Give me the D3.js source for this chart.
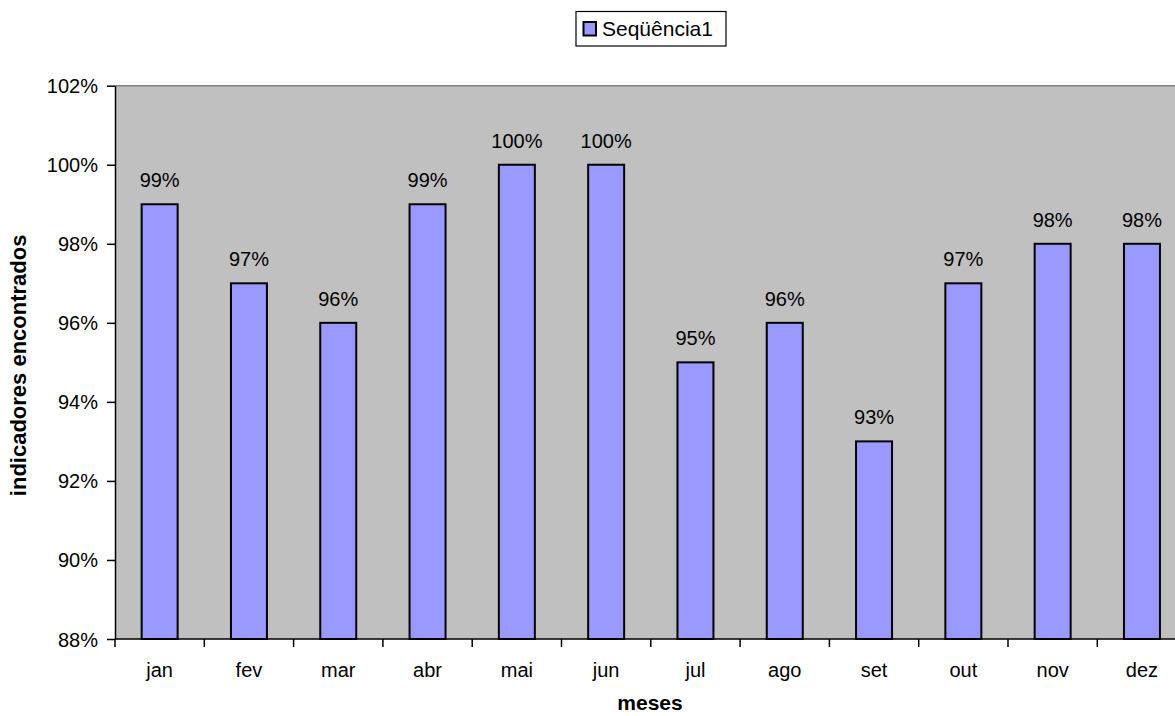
<!DOCTYPE html>
<html>
<head>
<meta charset="utf-8">
<script src="https://cdn.jsdelivr.net/npm/d3@7"></script>
<style>
  html, body { margin: 0; padding: 0; background: #fff; }
  svg { display: block; font-family: "Liberation Sans", Arial, sans-serif; }
</style>
</head>
<body>
<svg id="chart" width="1175" height="716"></svg>
<script>
// Monthly share of indicators found
const months = ["jan", "fev", "mar", "abr", "mai", "jun", "jul", "ago", "set", "out", "nov", "dez"];
const values = [0.99, 0.97, 0.96, 0.99, 1.00, 1.00, 0.95, 0.96, 0.93, 0.97, 0.98, 0.98];
const yTicks = [0.88, 0.90, 0.92, 0.94, 0.96, 0.98, 1.00, 1.02];
const seriesName = "Seqüência1";
const xTitle = "meses";
const yTitle = "indicadores encontrados";

const svg = d3.select("#chart");
const plot = { left: 115, top: 85.7, bottom: 639, step: 89.3 };
const plotRight = plot.left + plot.step * months.length;

const x = d3.scaleBand().domain(months).range([plot.left, plotRight]).padding(0);
const y = d3.scaleLinear().domain([0.88, 1.02]).range([plot.bottom, plot.top]);
const pct = d3.format(".0%");
const barW = x.bandwidth() * 0.403;

// plot background
svg.append("rect")
  .attr("x", plot.left).attr("y", plot.top)
  .attr("width", plotRight - plot.left).attr("height", plot.bottom - plot.top)
  .attr("fill", "#c0c0c0");
svg.append("line")
  .attr("x1", plot.left).attr("x2", plotRight)
  .attr("y1", plot.top).attr("y2", plot.top)
  .attr("stroke", "#808080").attr("stroke-width", 1.5);

// bars
svg.append("g").selectAll("rect").data(values).join("rect")
  .attr("x", (d, i) => x(months[i]) + (x.bandwidth() - barW) / 2)
  .attr("y", d => y(d))
  .attr("width", barW)
  .attr("height", d => y(0.88) - y(d))
  .attr("fill", "#9999ff")
  .attr("stroke", "#000").attr("stroke-width", 2);

// value labels
svg.append("g").selectAll("text").data(values).join("text")
  .attr("x", (d, i) => x(months[i]) + x.bandwidth() / 2)
  .attr("y", d => y(d) - 17)
  .attr("text-anchor", "middle")
  .attr("font-size", 20).attr("fill", "#000")
  .text(d => pct(d));

// y axis
const yAxis = svg.append("g")
  .attr("transform", `translate(${plot.left},0)`)
  .call(d3.axisLeft(y).tickValues(yTicks).tickFormat(pct).tickSizeOuter(0).tickSizeInner(8).tickPadding(9));
yAxis.select(".domain").attr("stroke", "#000").attr("stroke-width", 1.5);
yAxis.selectAll(".tick line").attr("stroke", "#000").attr("stroke-width", 1.5);
yAxis.selectAll(".tick text")
  .attr("font-size", 20).attr("font-family", "Liberation Sans, Arial, sans-serif")
  .attr("fill", "#000").attr("dy", "0.35em");

// x axis: ticks sit on category boundaries
const xAxisG = svg.append("g").attr("transform", `translate(0,${plot.bottom})`);
xAxisG.append("line")
  .attr("x1", plot.left).attr("x2", plotRight)
  .attr("stroke", "#000").attr("stroke-width", 1.5);
xAxisG.selectAll("line.tk").data(months).join("line")
  .attr("class", "tk")
  .attr("x1", d => x(d)).attr("x2", d => x(d))
  .attr("y1", 0).attr("y2", 8)
  .attr("stroke", "#000").attr("stroke-width", 1.5);
xAxisG.selectAll("text").data(months).join("text")
  .attr("x", d => x(d) + x.bandwidth() / 2)
  .attr("y", 38)
  .attr("text-anchor", "middle")
  .attr("font-size", 20).attr("fill", "#000")
  .text(d => d);

// axis titles
svg.append("text")
  .attr("x", 650).attr("y", 710)
  .attr("text-anchor", "middle")
  .attr("font-size", 21).attr("font-weight", "bold")
  .text(xTitle);
svg.append("text")
  .attr("transform", `translate(26,${(plot.top + plot.bottom) / 2 + 3}) rotate(-90)`)
  .attr("text-anchor", "middle")
  .attr("font-size", 22).attr("font-weight", "bold")
  .text(yTitle);

// legend
const lg = svg.append("g");
lg.append("rect")
  .attr("x", 576).attr("y", 11.5).attr("width", 150).attr("height", 34.5)
  .attr("fill", "#fff").attr("stroke", "#000").attr("stroke-width", 1.2);
lg.append("rect")
  .attr("x", 583.5).attr("y", 22).attr("width", 12.5).attr("height", 13.5)
  .attr("fill", "#9999ff").attr("stroke", "#000").attr("stroke-width", 2);
lg.append("text")
  .attr("x", 602).attr("y", 36)
  .attr("font-size", 21).attr("fill", "#000")
  .text(seriesName);
</script>
</body>
</html>
